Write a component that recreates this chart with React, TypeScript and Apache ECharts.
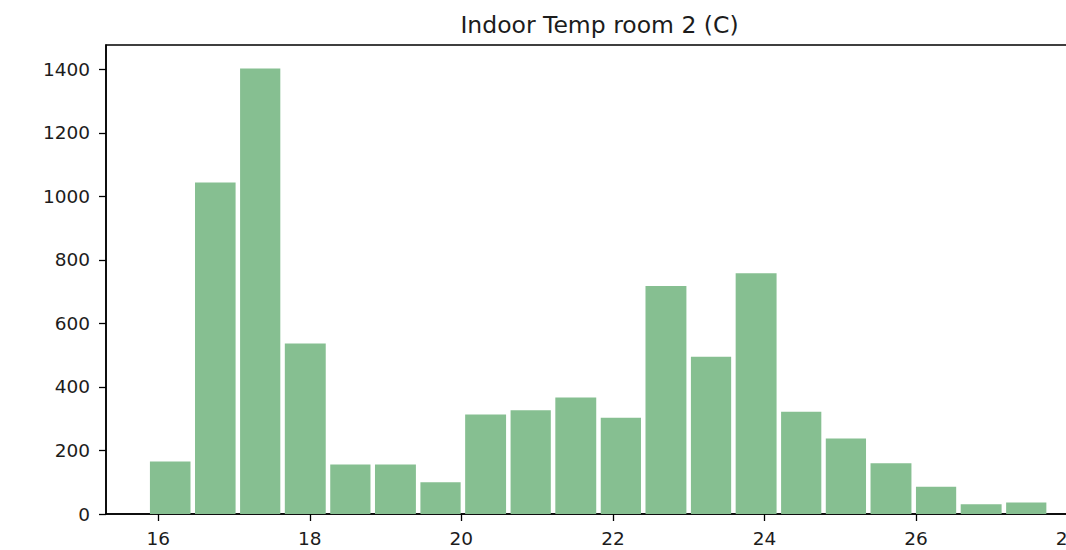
import React, { useEffect, useRef } from "react";
import * as echarts from "echarts";

const chartTitle = "Indoor Temp room 2 (C)";
const binEdges = [
  15.86, 16.455, 17.05, 17.64, 18.24, 18.83, 19.43, 20.02, 20.62, 21.21, 21.81,
  22.4, 23.0, 23.59, 24.19, 24.78, 25.37, 25.97, 26.56, 27.16, 27.75,
];
const counts = [
  165, 1044, 1403, 537, 156, 156, 100, 313, 327, 367, 303, 718, 495, 758, 322,
  238, 160, 86, 31, 36,
];
const xTicks = [16, 18, 20, 22, 24, 26, 28];
const yTicks = [0, 200, 400, 600, 800, 1000, 1200, 1400];

const FONT = "DejaVu Sans";

export default function App() {
  const ref = useRef<HTMLDivElement>(null);
  useEffect(() => {
    if (!ref.current) return;
    const chart = echarts.init(ref.current, undefined, { renderer: "svg" });
    const data = counts.map((c, i) => [binEdges[i], binEdges[i + 1], c]);
    chart.setOption({
      animation: false,
      backgroundColor: "#ffffff",
      grid: {
        left: 106,
        top: 45,
        right: 26.7,
        bottom: 36,
        show: true,
        borderColor: "#000",
        borderWidth: 1.5,
        backgroundColor: "transparent",
      },
      graphic: [
        {
          type: "text",
          x: 599.5,
          y: 25,
          style: {
            text: chartTitle,
            fontFamily: FONT,
            fontSize: 23.5,
            fill: "#1c1c1c",
            textAlign: "center",
            textVerticalAlign: "middle",
          },
        },
      ],
      xAxis: {
        type: "value",
        min: 15.31,
        max: 28.34,
        splitLine: { show: false },
        axisLine: { show: true, onZero: false, lineStyle: { color: "#000", width: 1.5 } },
        axisTick: {
          show: true,
          length: 7,
          lineStyle: { color: "#000", width: 1.3 },
          customValues: xTicks,
        },
        axisLabel: {
          customValues: xTicks,
          margin: 15,
          fontFamily: FONT,
          fontSize: 18.5,
          color: "#1c1c1c",
          formatter: (v: number) => String(v),
        },
      },
      yAxis: {
        type: "value",
        min: 0,
        max: 1477,
        splitLine: { show: false },
        axisLine: { show: true, lineStyle: { color: "#000", width: 1.5 } },
        axisTick: {
          show: true,
          length: 7,
          lineStyle: { color: "#000", width: 1.3 },
          customValues: yTicks,
        },
        axisLabel: {
          customValues: yTicks,
          margin: 16,
          fontFamily: FONT,
          fontSize: 18.5,
          color: "#1c1c1c",
          formatter: (v: number) => String(v),
        },
      },
      series: [
        {
          type: "custom",
          data,
          encode: { x: [0, 1], y: 2 },
          renderItem: (params: any, api: any) => {
            const x0 = api.value(0);
            const x1 = api.value(1);
            const w = x1 - x0;
            const left = x0 + w * 0.05;
            const right = x1 - w * 0.05;
            const p0 = api.coord([left, api.value(2)]);
            const p1 = api.coord([right, 0]);
            return {
              type: "rect",
              shape: { x: p0[0], y: p0[1], width: p1[0] - p0[0], height: p1[1] - p0[1] },
              style: { fill: "#86bf91" },
            };
          },
        },
      ],
    });
    return () => chart.dispose();
  }, []);
  return (
    <div
      style={{
        position: "fixed",
        left: 0,
        top: 0,
        width: 1066,
        height: 550,
        overflow: "hidden",
        background: "#fff",
      }}
    >
      <div ref={ref} style={{ width: 1120, height: 550 }} />
    </div>
  );
}
